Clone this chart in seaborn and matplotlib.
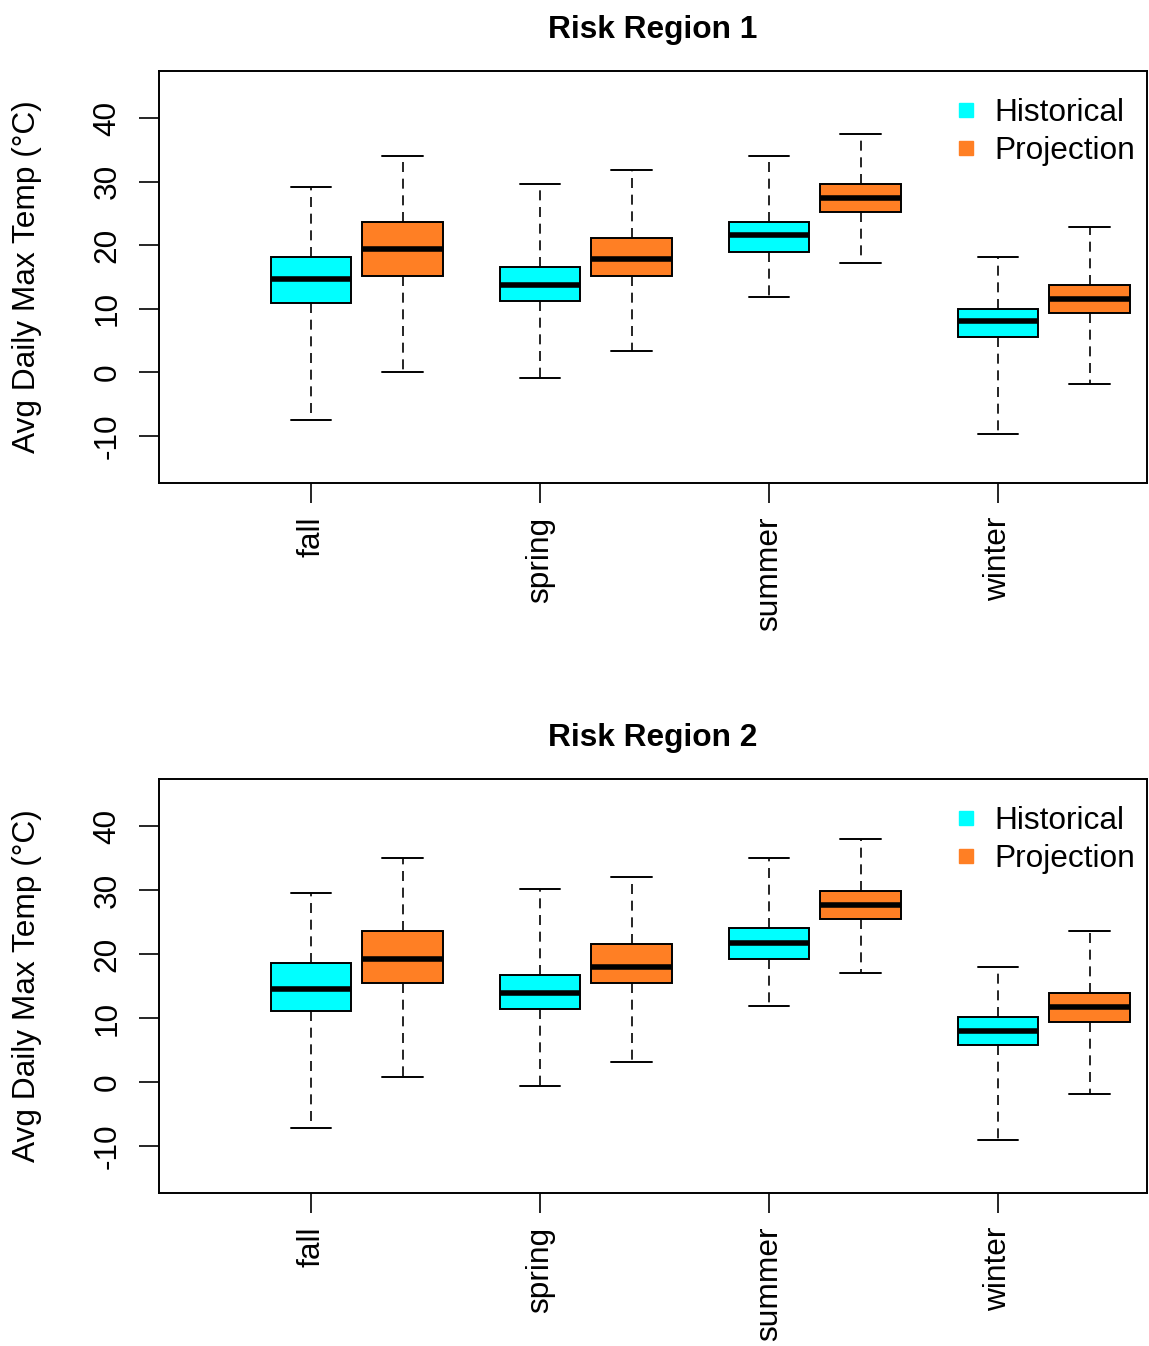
import numpy as np
import pandas as pd
import matplotlib
matplotlib.use("Agg")
import matplotlib.pyplot as plt
from matplotlib.lines import Line2D
import seaborn as sns

seasons = ["fall", "spring", "summer", "winter"]
periods = ["Historical", "Projection"]
colors = {"Historical": "#00FFFF", "Projection": "#FF7F24"}

# five-number summaries per season: [min, q1, median, q3, max]
r1_historical = [[-7.5, 10.9, 14.7, 18.1, 29.1],
                 [-0.9, 11.2, 13.7, 16.5, 29.7],
                 [11.9, 19.0, 21.6, 23.7, 34.1],
                 [-9.7, 5.6, 8.1, 10.0, 18.1]]
r1_projection = [[0.0, 15.2, 19.4, 23.7, 34.1],
                 [3.4, 15.2, 17.8, 21.2, 31.9],
                 [17.2, 25.2, 27.5, 29.7, 37.5],
                 [-1.8, 9.3, 11.6, 13.7, 22.9]]
r2_historical = [[-7.2, 11.1, 14.5, 18.6, 29.6],
                 [-0.6, 11.4, 13.9, 16.7, 30.2],
                 [11.9, 19.2, 21.8, 24.0, 35.0],
                 [-9.1, 5.7, 7.9, 10.1, 17.9]]
r2_projection = [[0.7, 15.5, 19.2, 23.6, 35.0],
                 [3.1, 15.5, 18.0, 21.5, 32.1],
                 [17.0, 25.5, 27.7, 29.9, 38.0],
                 [-1.9, 9.4, 11.7, 13.9, 23.6]]

region_titles = ["Risk Region 1", "Risk Region 2"]
y_ticks = [-10, 0, 10, 20, 30, 40]


def to_frame(hist, proj):
    rows = []
    for period, summ in zip(periods, [hist, proj]):
        for season, vals in zip(seasons, summ):
            for v in vals:
                rows.append((season, period, v))
    return pd.DataFrame(rows, columns=["season", "period", "temp"])


sns.set_style("ticks")
plt.rcParams['font.family'] = ['Liberation Sans', 'DejaVu Sans']
plt.rcParams['axes.unicode_minus'] = False
plt.rcParams['text.color'] = 'black'
plt.rcParams['axes.labelcolor'] = 'black'
plt.rcParams['xtick.color'] = 'black'
plt.rcParams['ytick.color'] = 'black'
FS = 22.8

fig = plt.figure(figsize=(11.49, 13.46), dpi=100)
ax1 = fig.add_axes([159 / 1149, 1 - 483 / 1346, 988 / 1149, 412 / 1346])
ax2 = fig.add_axes([159 / 1149, 1 - 1193 / 1346, 988 / 1149, 414 / 1346])

frames = [to_frame(r1_historical, r1_projection), to_frame(r2_historical, r2_projection)]

for ax, df, title in zip([ax1, ax2], frames, region_titles):
    sns.boxplot(data=df, x="season", y="temp", hue="period", order=seasons,
                hue_order=periods, palette=colors, saturation=1, width=0.8,
                gap=0.12, whis=(0, 100), showfliers=False, linecolor="black",
                linewidth=1.4, legend=False, ax=ax,
                whiskerprops={"linestyle": (0, (6, 4)), "linewidth": 1.2},
                capprops={"linewidth": 1.4},
                medianprops={"linewidth": 4, "color": "black",
                             "solid_capstyle": "butt"})
    ax.set_xlim(-0.864, 3.451)
    ax.set_ylim(-17.4, 47.4)
    ax.set_xticks(np.arange(len(seasons)) - 0.2, seasons)
    ax.set_yticks(y_ticks)
    ax.tick_params(axis="both", length=14.4, width=1.2, labelsize=FS,
                   pad=10, colors="black")
    ax.tick_params(axis="x", labelrotation=90)
    ax.tick_params(axis="y", labelrotation=90, pad=12)
    for lab in ax.get_yticklabels():
        lab.set_verticalalignment("center")
    for s in ax.spines.values():
        s.set_linewidth(1.4)
        s.set_color("black")
    ax.set_xlabel("")
    ax.set_ylabel("Avg Daily Max Temp (°C)", fontsize=FS, labelpad=36)
    ax.set_title(title, fontsize=FS, fontweight="bold", pad=24)
    handles = [Line2D([], [], linestyle="none", marker="s", markersize=10,
                      markerfacecolor=colors[p], markeredgecolor=colors[p])
               for p in periods]
    ax.legend(handles, periods, loc="upper right", frameon=False, fontsize=FS,
              handlelength=0.8, handletextpad=0.5, borderpad=0,
              borderaxespad=0.38, labelspacing=0.25,
              bbox_to_anchor=(1, 1 - 15 / 412))

fig.savefig("out.png", dpi=100)
